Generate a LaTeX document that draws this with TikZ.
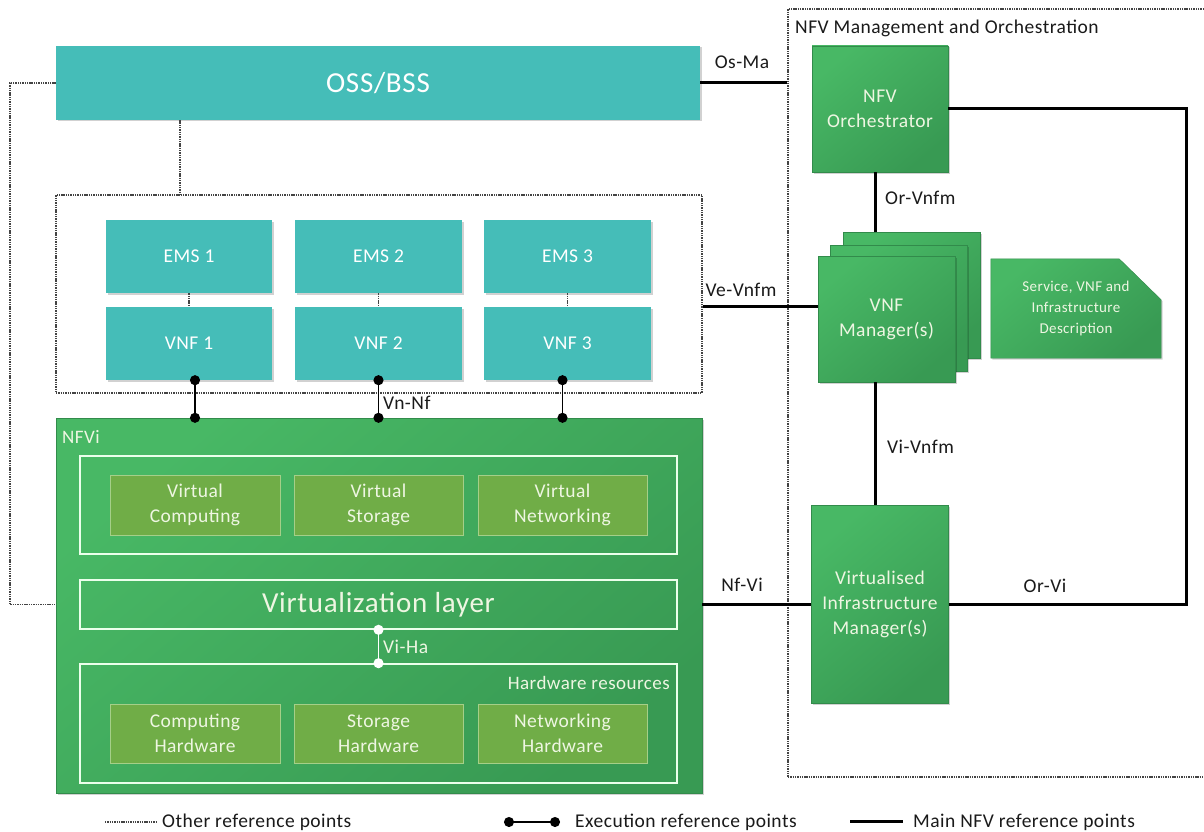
\documentclass[tikz,border=0pt]{standalone}
\usepackage{fontspec}
\setmainfont{Carlito}[LetterSpace=2.5]
\usetikzlibrary{arrows.meta,shadows,calc}

\definecolor{tealfill}{HTML}{45BDB8}
\definecolor{gLight}{HTML}{48B865}
\definecolor{gDark}{HTML}{389A53}
\definecolor{olivefill}{HTML}{70AD47}
\definecolor{oliveedge}{HTML}{A5CF88}
\definecolor{paletext}{HTML}{EEF6E2}
\definecolor{dotgray}{HTML}{444444}
\definecolor{inktext}{HTML}{1A1A1A}

\tikzset{
  softshadow/.style={drop shadow={shadow xshift=1.5pt, shadow yshift=-1.5pt, opacity=0.18, fill=black}},
  tealbox/.style={rectangle, fill=tealfill, inner sep=0pt, text=white, softshadow,
    font={\fontsize{19.5}{24}\selectfont}},
  greenbox/.style={rectangle, draw=gDark!90!black, line width=0.4pt, top color=gLight, bottom color=gDark,
    shading angle=40, inner sep=0pt, text=paletext, align=center, softshadow,
    font={\fontsize{19.5}{25}\selectfont}},
  olivebox/.style={rectangle, fill=olivefill, draw=oliveedge, line width=1pt, inner sep=0pt,
    text=paletext, align=center, font={\fontsize{19.5}{25}\selectfont}},
  whiteframe/.style={rectangle, draw=white!92!green, line width=1.6pt, inner sep=0pt},
  otherref/.style={draw=dotgray, line width=1.6pt, dash pattern=on 1.4pt off 0.9pt},
  zoneframe/.style={rectangle, draw=dotgray, line width=1.4pt, dash pattern=on 1.4pt off 0.9pt, inner sep=0pt},
  mainref/.style={draw=black, line width=3pt},
  execref/.style={draw=black, line width=1.6pt, {Circle[length=10pt]}-{Circle[length=10pt]},
    shorten <=-5pt, shorten >=-5pt},
  execwhite/.style={draw=white, line width=1.6pt, {Circle[length=10pt]}-{Circle[length=10pt]},
    shorten <=-5pt, shorten >=-5pt},
  reflabel/.style={text=inktext, inner sep=0pt, anchor=base, font={\fontsize{19.5}{22}\selectfont}},
  legendtext/.style={text=inktext, inner sep=0pt, anchor=base west, font={\fontsize{19.5}{22}\selectfont}}
}

\begin{document}
\begin{tikzpicture}[x=1pt,y=-1pt]
\useasboundingbox (0,0) rectangle (1204,832);
\clip (0,0) rectangle (1204,832);
\fill[white] (0,0) rectangle (1204,832);

% ---------- management and orchestration area ----------
\node[zoneframe, minimum width=430, minimum height=768] (mano) at (1003,393) {};
\node[anchor=base west, inner sep=0pt, text=inktext, font={\fontsize{19.5}{22}\selectfont}] (manotitle) at (795,34) {NFV Management and Orchestration};

% ---------- OSS/BSS ----------
\node[tealbox, minimum width=644, minimum height=74, font={\fontsize{29}{34}\selectfont}] (oss) at (378,83) {OSS/BSS};

% ---------- EMS / VNF zone ----------
\node[zoneframe, minimum width=646, minimum height=198] (vnfzone) at (379,294) {};
\node[tealbox, minimum width=166, minimum height=73] (ems1) at (189,256.5) {EMS 1};
\node[tealbox, minimum width=167, minimum height=73] (ems2) at (378.5,256.5) {EMS 2};
\node[tealbox, minimum width=167, minimum height=73] (ems3) at (567.5,256.5) {EMS 3};
\node[tealbox, minimum width=166, minimum height=73] (vnf1) at (189,343.5) {VNF 1};
\node[tealbox, minimum width=167, minimum height=73] (vnf2) at (378.5,343.5) {VNF 2};
\node[tealbox, minimum width=167, minimum height=73] (vnf3) at (567.5,343.5) {VNF 3};

% ---------- NFVI ----------
\node[greenbox, minimum width=646, minimum height=375] (nfvi) at (379,605.5) {};
\node[anchor=base west, inner sep=0pt, text=paletext, font={\fontsize{19}{22}\selectfont}] (nfvilabel) at (62,443) {NFVi};

\node[whiteframe, minimum width=597, minimum height=98] (vres) at (378.5,505) {};
\node[olivebox, minimum width=170, minimum height=60] (vcomp) at (195,505) {Virtual\\Computing};
\node[olivebox, minimum width=169, minimum height=60] (vstor) at (378.5,505) {Virtual\\Storage};
\node[olivebox, minimum width=169, minimum height=60] (vnet) at (562.5,505) {Virtual\\Networking};

\node[whiteframe, minimum width=597, minimum height=49, text=paletext, font={\fontsize{29}{32}\selectfont}] (vlayer) at (378.5,604.5) {Virtualization layer};

\node[whiteframe, minimum width=597, minimum height=119] (hwres) at (378.5,723.5) {};
\node[anchor=base east, inner sep=0pt, text=paletext, font={\fontsize{19}{22}\selectfont}] (hwlabel) at (670,689) {Hardware resources};
\node[olivebox, minimum width=170, minimum height=59] (chw) at (195,733.5) {Computing\\Hardware};
\node[olivebox, minimum width=169, minimum height=59] (shw) at (378.5,733.5) {Storage\\Hardware};
\node[olivebox, minimum width=169, minimum height=59] (nhw) at (562.5,733.5) {Networking\\Hardware};

% ---------- MANO blocks ----------
\node[greenbox, minimum width=136, minimum height=126] (orch) at (880,109) {NFV\\Orchestrator};

\node[greenbox, minimum width=137, minimum height=126] (vnfmc) at (911.5,295) {};
\node[greenbox, minimum width=137, minimum height=126] (vnfmb) at (898.5,308) {};
\node[greenbox, minimum width=137, minimum height=126] (vnfma) at (886.5,319) {VNF\\Manager(s)};

\node[minimum width=170, minimum height=99, inner sep=0pt] (desc) at (1076,308.5) {};
\path[draw=gDark!90!black, line width=0.4pt, top color=gLight, bottom color=gDark, shading angle=40, softshadow]
  (desc.north west) -- ([xshift=-42pt]desc.north east) -- ([yshift=-41pt]desc.north east)
  -- (desc.south east) -- (desc.south west) -- cycle;
\node[align=center, inner sep=0pt, text=paletext, font={\fontsize{15}{21}\selectfont}] (desctext) at (desc.center)
  {Service, VNF and\\Infrastructure\\Description};

\node[greenbox, minimum width=137, minimum height=198] (vim) at (880,604) {Virtualised\\Infrastructure\\Manager(s)};

% ---------- other reference points ----------
\draw[otherref] (oss.west) -- ++(-46,0) |- (nfvi.west |- vlayer.west);
\draw[otherref] ([xshift=-198pt]oss.south) -- ([xshift=-198pt]oss.south |- vnfzone.north);
\draw[otherref, line width=1.4pt] (ems1.south) -- (vnf1.north);
\draw[otherref, line width=1.4pt] (ems2.south) -- (vnf2.north);
\draw[otherref, line width=1.4pt] (ems3.south) -- (vnf3.north);

% ---------- execution reference points ----------
\draw[execref] (vcomp |- vnf1.south) -- (vcomp |- nfvi.north);
\draw[execref] (vstor |- vnf2.south) -- (vstor |- nfvi.north);
\draw[execref] (vnet |- vnf3.south) -- (vnet |- nfvi.north);
\node[reflabel, anchor=base west] (vnnf) at (383,409) {Vn-Nf};

\draw[execwhite] (vlayer.south) -- (hwres.north);
\node[reflabel, anchor=base west, text=paletext] (viha) at (383,653) {Vi-Ha};

% ---------- main NFV reference points ----------
\draw[mainref] (oss.east) -- (mano.west |- oss.east);
\node[reflabel] (osma) at (742,69) {Os-Ma};

\draw[mainref] ([yshift=-12pt]vnfzone.east) -- ([yshift=-12pt]vnfzone.east -| vnfma.west);
\node[reflabel] (vevnfm) at (741,296) {Ve-Vnfm};

\draw[mainref] ([xshift=-5pt]orch.south) -- ([xshift=-5pt]orch.south |- vnfmc.north);
\node[reflabel, anchor=base west] (orvnfm) at (885,204) {Or-Vnfm};

\draw[mainref] ([xshift=-11.5pt]vnfma.south) -- ([xshift=-11.5pt]vnfma.south |- vim.north);
\node[reflabel, anchor=base west] (vivnfm) at (887,453) {Vi-Vnfm};

\draw[mainref] (vlayer.east -| nfvi.east) -- (vlayer.east -| vim.west);
\node[reflabel] (nfvi-lbl) at (742,591) {Nf-Vi};

\draw[mainref] (orch.east) -- ++(238,0) |- (vim.east);
\node[reflabel] (orvi) at (1045,592) {Or-Vi};

% ---------- legend ----------
\coordinate (lgA1) at (105,822);
\coordinate (lgA2) at (157,822);
\draw[otherref, line width=1.4pt] (lgA1) -- (lgA2);
\node[legendtext] (lgAt) at (162,827) {Other reference points};

\coordinate (lgB1) at (509,822);
\coordinate (lgB2) at (555,822);
\draw[execref] (lgB1) -- (lgB2);
\node[legendtext] (lgBt) at (575,827) {Execution reference points};

\coordinate (lgC1) at (850,821);
\coordinate (lgC2) at (903,821);
\draw[mainref] (lgC1) -- (lgC2);
\node[legendtext] (lgCt) at (913,827) {Main NFV reference points};
\end{tikzpicture}
\end{document}
